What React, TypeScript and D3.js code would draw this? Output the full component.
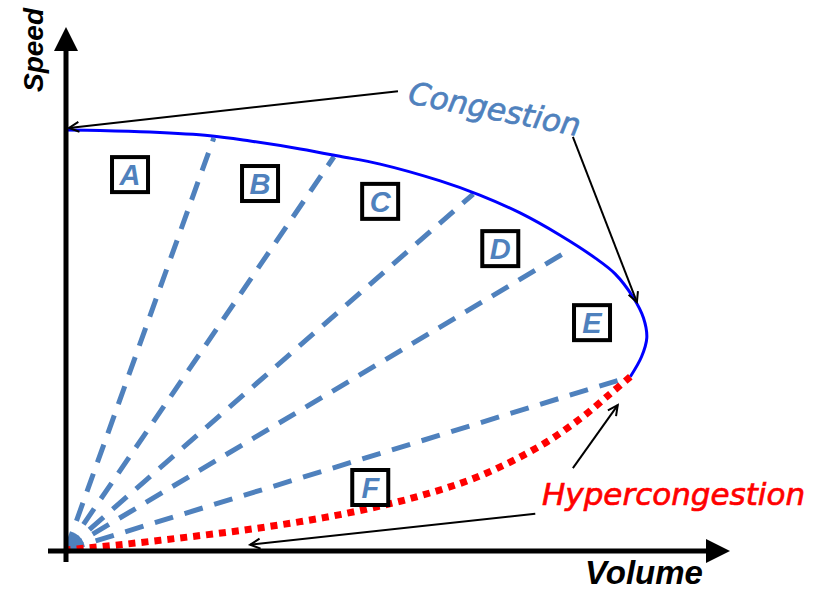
import React from "react";
import * as d3 from "d3";

// Congestion branch of the speed-volume curve (volume, speed in 0..100 units)
const congestionVolume = [0, 5.15, 12.7, 21.8, 27.9, 35.5, 41.5, 47.6, 56.7, 62.7, 68.8, 74.8, 80.2, 83.2, 85.9, 87.5, 88.0, 87.2, 85.5];
const congestionSpeed = [80, 79.9, 79.6, 78.9, 77.9, 76.4, 75.0, 73.5, 70.3, 67.6, 64.2, 60.0, 55.6, 52.6, 48.2, 44.2, 40.4, 36.8, 33.0];

// Hypercongestion branch
const hyperVolume = [85.5, 82.4, 77.9, 71.8, 62.7, 53.6, 44.5, 35.5, 26.4, 17.3, 8.2, 0];
const hyperSpeed = [33.0, 29.7, 25.0, 19.8, 14.1, 10.3, 7.5, 5.4, 3.7, 2.3, 1.0, 0];

// Rays from the origin
const rayVolume = [22.4, 40.6, 61.7, 75.8, 84.4];
const raySpeed = [78.5, 74.9, 67.8, 56.8, 32.6];

// Region labels
const regionLabels = ["A", "B", "C", "D", "E", "F"];
const regionVolume = [9.7, 29.4, 47.6, 65.8, 79.7, 46.1];
const regionSpeed = [71.6, 69.9, 66.5, 57.5, 43.4, 12.0];

// Annotation arrows (from -> to)
const arrowFromVolume = [50.3, 76.8, 76.8, 71.1];
const arrowFromSpeed = [87.4, 78.7, 15.6, 6.9];
const arrowToVolume = [0.45, 86.5, 83.6, 27.9];
const arrowToSpeed = [80.4, 47.2, 27.6, 1.0];

const axisLabels = { x: "Volume", y: "Speed" };
const curveLabels = ["Congestion", "Hypercongestion"];

const W = 816;
const H = 592;
const BLUE_LIGHT = "#4F81BD";

export default function App() {
  const x = d3.scaleLinear().domain([0, 100]).range([66, 726]);
  const y = d3.scaleLinear().domain([0, 100]).range([550, 25]);

  const line = d3
    .line<[number, number]>()
    .x((d) => x(d[0]))
    .y((d) => y(d[1]))
    .curve(d3.curveCatmullRom.alpha(0.5));
  const straight = d3
    .line<[number, number]>()
    .x((d) => x(d[0]))
    .y((d) => y(d[1]));

  const congestion = congestionVolume.map((v, i) => [v, congestionSpeed[i]] as [number, number]);
  const hyper = hyperVolume.map((v, i) => [v, hyperSpeed[i]] as [number, number]);

  const ox = x(0);
  const oy = y(0);

  return (
    <svg
      width={W}
      height={H}
      viewBox={`0 0 ${W} ${H}`}
      style={{ position: "absolute", left: 0, top: 0, background: "#fff" }}
    >
      <defs>
        <marker
          id="openArrow"
          viewBox="-1 -7 13 14"
          refX={10}
          refY={0}
          markerWidth={13}
          markerHeight={14}
          markerUnits="userSpaceOnUse"
          orient="auto"
        >
          <path d="M0,-5 L10,0 L0,5" fill="none" stroke="#000" strokeWidth={2} />
        </marker>
      </defs>
      <rect x={0} y={0} width={W} height={H} fill="#fff" />

      {/* rays */}
      {rayVolume.map((v, i) => (
        <path
          key={"ray" + i}
          d={straight([[0, 0], [v, raySpeed[i]]]) || ""}
          fill="none"
          stroke={BLUE_LIGHT}
          strokeWidth={5}
          strokeDasharray="19 12"
        />
      ))}

      {/* congestion curve */}
      <path d={line(congestion) || ""} fill="none" stroke="#0000ff" strokeWidth={3} />

      {/* hypercongestion curve */}
      <path
        d={line(hyper) || ""}
        fill="none"
        stroke="#ff0000"
        strokeWidth={7}
        strokeDasharray="7 6"
      />

      {/* axes */}
      <line x1={ox} y1={562} x2={ox} y2={48} stroke="#000" strokeWidth={5} />
      <path d={`M${ox},27 L${ox - 12},51 L${ox + 12},51 Z`} fill="#000" />
      <line x1={48} y1={oy + 1} x2={708} y2={oy + 1} stroke="#000" strokeWidth={5} />
      <path d={`M730,${oy + 1} L706,${oy - 11} L706,${oy + 13} Z`} fill="#000" />

      {/* axis labels */}
      <text
        transform={`translate(43,50) rotate(-90)`}
        textAnchor="middle"
        fontFamily="'Liberation Sans', Arial, sans-serif"
        fontWeight="bold"
        fontStyle="italic"
        fontSize={28}
        fill="#000"
      >
        {axisLabels.y}
      </text>
      <text
        x={585}
        y={584}
        fontFamily="'Liberation Sans', Arial, sans-serif"
        fontWeight="bold"
        fontStyle="italic"
        fontSize={33}
        fill="#000"
      >
        {axisLabels.x}
      </text>

      {/* region boxes */}
      {regionLabels.map((lab, i) => {
        const cx = x(regionVolume[i]);
        const cy = y(regionSpeed[i]);
        return (
          <g key={"box" + lab}>
            <rect x={cx - 18} y={cy - 17} width={36} height={35} fill="#fff" stroke="#000" strokeWidth={4} />
            <text
              x={cx}
              y={cy + 11}
              textAnchor="middle"
              fontFamily="'Liberation Sans', Arial, sans-serif"
              fontWeight="bold"
              fontStyle="italic"
              fontSize={29}
              fill={BLUE_LIGHT}
            >
              {lab}
            </text>
          </g>
        );
      })}

      {/* annotation arrows */}
      {arrowFromVolume.map((v, i) => (
        <line
          key={"arr" + i}
          x1={x(v)}
          y1={y(arrowFromSpeed[i])}
          x2={x(arrowToVolume[i])}
          y2={y(arrowToSpeed[i])}
          stroke="#000"
          strokeWidth={2}
          markerEnd="url(#openArrow)"
        />
      ))}

      {/* curve labels */}
      <text
        transform={`translate(407,103) rotate(11)`}
        fontFamily="'DejaVu Sans', Verdana, sans-serif"
        fontStyle="italic"
        fontSize={31}
        fill={BLUE_LIGHT}
        stroke={BLUE_LIGHT}
        strokeWidth={0.7}
      >
        {curveLabels[0]}
      </text>
      <text
        x={542}
        y={505}
        fontFamily="'DejaVu Sans', Verdana, sans-serif"
        fontStyle="italic"
        fontSize={31}
        fill="#ff0000"
        stroke="#ff0000"
        strokeWidth={0.7}
      >
        {curveLabels[1]}
      </text>
    </svg>
  );
}
